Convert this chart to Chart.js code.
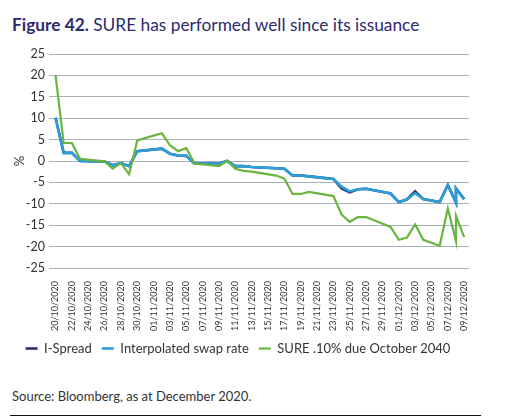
<!DOCTYPE html>
<html><head><meta charset="utf-8">
<script src="https://cdn.jsdelivr.net/npm/chart.js@4.4.1/dist/chart.umd.min.js"></script>
<style>
html,body{margin:0;padding:0;background:#fff;width:527px;height:420px;overflow:hidden;font-family:Lato, "Open Sans", sans-serif}
#title{position:absolute;left:12px;top:15px;font-size:17.3px;line-height:20px;color:#2d2a6e;white-space:nowrap}
#title b{font-weight:700}
#wrap{position:absolute;left:0;top:0;width:480px;height:365px}
#source{position:absolute;left:12px;top:388px;font-size:13px;line-height:16px;color:#333;white-space:nowrap}
#rule{position:absolute;left:10px;top:415px;width:471px;height:0;border-top:1.5px solid #111}
</style></head>
<body>
<div id="title"><b>Figure 42.</b> SURE has performed well since its issuance</div>
<div id="wrap"><canvas id="c"></canvas></div>
<div id="source">Source: Bloomberg, as at December 2020.</div>
<div id="rule"></div>
<script>
const seriesNames = ['I-Spread', 'Interpolated swap rate', 'SURE .10% due October 2040'];
const pointDates = ['20/10/2020','21/10/2020','22/10/2020','23/10/2020','26/10/2020','27/10/2020','28/10/2020','29/10/2020','30/10/2020',
  '02/11/2020','03/11/2020','04/11/2020','05/11/2020','06/11/2020','09/11/2020','10/11/2020','11/11/2020','12/11/2020','13/11/2020',
  '16/11/2020','17/11/2020','18/11/2020','19/11/2020','20/11/2020','23/11/2020','24/11/2020','25/11/2020','26/11/2020','27/11/2020',
  '30/11/2020','01/12/2020','02/12/2020','03/12/2020','04/12/2020','06/12/2020','07/12/2020','08/12/2020','08/12/2020','09/12/2020'];
const sureValues = [20.0, 4.2, 4.2, 0.5, -0.1, -1.8, -0.5, -3.1, 4.8,
  6.5, 3.7, 2.3, 3.0, -0.6, -1.2, 0.0, -1.8, -2.3, -2.5,
  -3.4, -4.1, -7.7, -7.7, -7.2, -8.2, -12.5, -14.2, -13.1, -13.1,
  -15.4, -18.4, -17.9, -14.8, -18.4, -19.8, -11.1, -18.7, -12.8, -17.8];
const swapValues = [10.1, 1.9, 1.9, 0.0, -0.1, -1.0, -0.5, -1.2, 2.3,
  2.9, 1.7, 1.3, 1.2, -0.6, -0.6, 0.0, -1.2, -1.2, -1.4,
  -1.7, -1.8, -3.4, -3.4, -3.6, -4.2, -6.0, -7.1, -6.6, -6.5,
  -7.6, -9.6, -9.0, -7.5, -8.9, -9.6, -5.6, -9.7, -6.4, -8.9];
const iSpreadValues = [10.1, 1.9, 1.9, 0.0, -0.1, -1.0, -0.5, -1.2, 2.3,
  2.9, 1.7, 1.3, 1.2, -0.6, -0.6, 0.0, -1.2, -1.2, -1.4,
  -1.7, -1.8, -3.4, -3.4, -3.6, -4.2, -6.4, -7.3, -6.6, -6.5,
  -7.6, -9.6, -9.0, -7.1, -8.9, -9.6, -5.6, -9.7, -6.4, -8.9];
const tickLabels = ['20/10/2020','22/10/2020','24/10/2020','26/10/2020','28/10/2020','30/10/2020','01/11/2020','03/11/2020',
  '05/11/2020','07/11/2020','09/11/2020','11/11/2020','13/11/2020','15/11/2020','17/11/2020','19/11/2020','21/11/2020',
  '23/11/2020','25/11/2020','27/11/2020','29/11/2020','01/12/2020','03/12/2020','05/12/2020','07/12/2020','09/12/2020'];

function toUTC(s){ const p = s.split('/').map(Number); return Date.UTC(p[2], p[1]-1, p[0]); }
const base = toUTC(tickLabels[0]);
function dayOffset(s){ return Math.round((toUTC(s) - base) / 86400000); }
function pts(vals){ return pointDates.map((d,i) => ({x: dayOffset(d), y: vals[i]})); }

const colors = ['#27306f', '#2a9fd9', '#6ab43f'];
const widths = [2.6, 2.6, 2.2];
const series = [iSpreadValues, swapValues, sureValues];

new Chart(document.getElementById('c'), {
  type: 'line',
  data: {
    datasets: series.map((vals, i) => ({
      label: seriesNames[i],
      data: pts(vals),
      borderColor: colors[i],
      backgroundColor: colors[i],
      borderWidth: widths[i],
      pointRadius: 0,
      tension: 0,
      order: 2 - i
    }))
  },
  options: {
    responsive: true,
    maintainAspectRatio: false,
    animation: false,
    layout: { padding: { top: 54, right: 4, left: 0, bottom: 0 } },
    plugins: {
      tooltip: { enabled: false },
      legend: {
        position: 'bottom',
        labels: {
          usePointStyle: true, pointStyle: 'line', pointStyleWidth: 12,
          font: { family: 'Lato', size: 13 }, color: '#333', padding: 10,
          sort: (a, b) => a.datasetIndex - b.datasetIndex
        }
      }
    },
    scales: {
      x: {
        type: 'linear', min: -0.8, max: 50.6,
        afterBuildTicks: axis => { axis.ticks = tickLabels.map(t => ({ value: dayOffset(t) })); },
        afterFit: s => { s.height = 64; },
        ticks: {
          autoSkip: false, maxRotation: 90, minRotation: 90, padding: 5,
          font: { family: 'Lato', size: 9 }, color: '#333',
          callback: (v, i) => tickLabels[i]
        },
        grid: { display: false }, border: { display: false }
      },
      y: {
        min: -25, max: 25,
        afterFit: s => { s.width = 49; },
        ticks: { stepSize: 5, autoSkip: false, padding: 4, font: { family: 'Lato', size: 12.5 }, color: '#333' },
        grid: { color: '#a7b1bb', lineWidth: 1, drawTicks: false },
        border: { display: false },
        title: { display: true, text: '%', font: { family: 'Lato', size: 13 }, color: '#333', padding: { top: 12, bottom: 0 } }
      }
    }
  }
});
</script>
</body></html>
